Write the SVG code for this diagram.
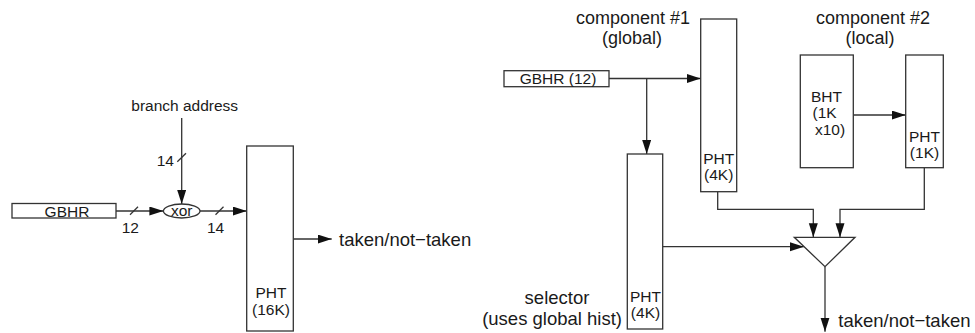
<svg xmlns="http://www.w3.org/2000/svg" width="975" height="333" viewBox="0 0 975 333">
<style>
  .box{fill:#fff;stroke:#333;stroke-width:1.3}
  .ln{fill:none;stroke:#333;stroke-width:1.3}
  .t{font-family:"Liberation Sans",Arial,sans-serif;fill:#1a1a1a}
  .s{font-size:15.5px}
  .b{font-size:18.5px}
  .c{font-size:18px}
  .m{text-anchor:middle}
</style>
<defs>
  <marker id="ah" markerUnits="userSpaceOnUse" markerWidth="15" markerHeight="10" refX="14" refY="4.5" orient="auto">
    <path d="M0,0 L14,4.5 L0,9 z" fill="#111"/>
  </marker>
</defs>
<rect width="975" height="333" fill="#fff"/>

<g id="connectors">
  <path class="ln" d="M181.7,118 V204" marker-end="url(#ah)"/>
  <path class="ln" d="M116,211 H163.4" marker-end="url(#ah)"/>
  <path class="ln" d="M200,211 H246.7" marker-end="url(#ah)"/>
  <path class="ln" d="M293.3,239 H331.7" marker-end="url(#ah)"/>
  <path class="ln" d="M177.3,161.7 L186,153.3"/>
  <path class="ln" d="M130,214.7 L138,206.7"/>
  <path class="ln" d="M215.5,214.7 L223.5,206.7"/>
  <path class="ln" d="M609,78.5 H700.7" marker-end="url(#ah)"/>
  <path class="ln" d="M646.7,78.5 V154" marker-end="url(#ah)"/>
  <path class="ln" d="M853.3,115 H905.7" marker-end="url(#ah)"/>
  <path class="ln" d="M717.7,191.7 V209.3 H813.3 V237.3" marker-end="url(#ah)"/>
  <path class="ln" d="M924.3,167.7 V209.3 H840 V237.3" marker-end="url(#ah)"/>
  <path class="ln" d="M662.7,246.7 H804" marker-end="url(#ah)"/>
  <path class="ln" d="M825,266.7 V331.7" marker-end="url(#ah)"/>
</g>

<g id="branch-address">
  <text class="t s m" x="184.7" y="111">branch address</text>
</g>
<g id="labels-left">
  <text class="t s" x="174" y="166" text-anchor="end">14</text>
  <text class="t s" x="121.7" y="233">12</text>
  <text class="t s" x="207" y="233">14</text>
</g>
<g id="gbhr-left">
  <rect class="box" x="12" y="203.5" width="104" height="14.5"/>
  <text class="t s m" x="67" y="216.5">GBHR</text>
</g>
<g id="xor">
  <ellipse class="box" cx="181.7" cy="211" rx="18.3" ry="7"/>
  <text class="t s m" x="181.7" y="215.5">xor</text>
</g>
<g id="pht-16k">
  <rect class="box" x="246.7" y="146" width="46.6" height="185"/>
  <text class="t s m" x="271" y="297.5">PHT</text>
  <text class="t s m" x="271" y="315">(16K)</text>
</g>
<g id="out-left">
  <text class="t b" x="339" y="245.5">taken/not−taken</text>
</g>

<g id="component1-label">
  <text class="t c m" x="633" y="23.5">component #1</text>
  <text class="t c m" x="632" y="43.8">(global)</text>
</g>
<g id="gbhr12">
  <rect class="box" x="504" y="70.7" width="105" height="16"/>
  <text class="t s m" x="558" y="84">GBHR (12)</text>
</g>
<g id="pht-4k-global">
  <rect class="box" x="700.7" y="19" width="36" height="172.7"/>
  <text class="t s m" x="718.7" y="164">PHT</text>
  <text class="t s m" x="718.7" y="180">(4K)</text>
</g>
<g id="selector">
  <rect class="box" x="627.3" y="154" width="35.4" height="175"/>
  <text class="t s m" x="645.5" y="302">PHT</text>
  <text class="t s m" x="645.5" y="318">(4K)</text>
  <text class="t b m" x="557" y="303.5">selector</text>
  <text class="t b" x="622" y="325" text-anchor="end">(uses global hist)</text>
</g>
<g id="component2-label">
  <text class="t c m" x="873" y="23.5">component #2</text>
  <text class="t c m" x="870" y="43.8">(local)</text>
</g>
<g id="bht">
  <rect class="box" x="800.3" y="55" width="53" height="112.7"/>
  <text class="t s" x="811" y="101.7">BHT</text>
  <text class="t s" x="812.5" y="118.3">(1K</text>
  <text class="t s" x="815" y="135">x10)</text>
</g>
<g id="pht-1k">
  <rect class="box" x="905.7" y="55" width="37.6" height="112.7"/>
  <text class="t s m" x="924.5" y="141.7">PHT</text>
  <text class="t s m" x="924.5" y="158.3">(1K)</text>
</g>
<g id="mux">
  <polygon class="box" points="794.3,237.3 855,237.3 825,266.7"/>
</g>
<g id="out-right">
  <text class="t b" x="838.3" y="326.7">taken/not−taken</text>
</g>
</svg>
